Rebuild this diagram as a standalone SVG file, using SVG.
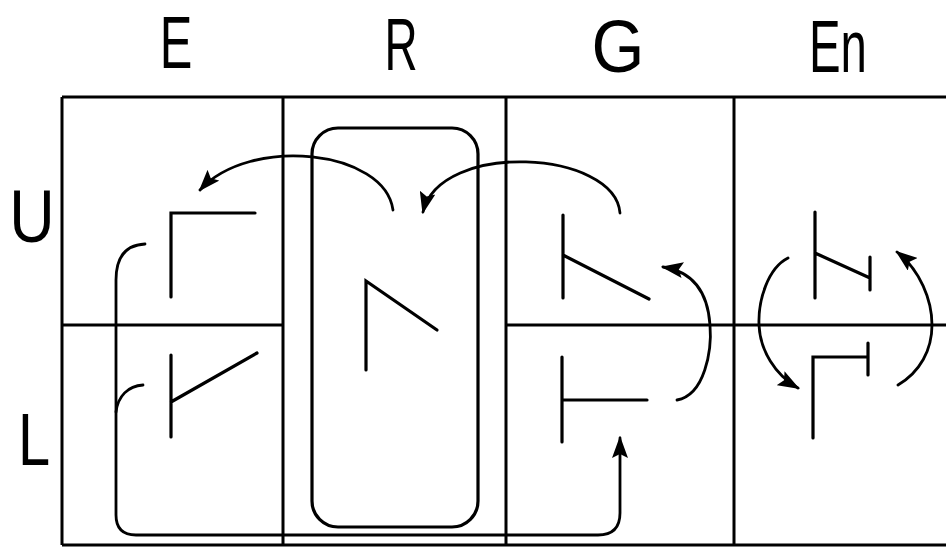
<svg xmlns="http://www.w3.org/2000/svg" width="946" height="551" viewBox="0 0 946 551">
<style>
.grid{stroke:#000;stroke-width:3;fill:none}
.g{stroke:#000;stroke-width:3.2;fill:none;stroke-linecap:round}
.c{stroke:#000;stroke-width:2.8;fill:none;stroke-linecap:round}
.lbl{font-family:"Liberation Sans","Arial",sans-serif;font-weight:normal;font-size:74px;fill:#000;text-anchor:middle}
</style>
<defs>
<marker id="ah" markerUnits="userSpaceOnUse" viewBox="0 0 22 16" markerWidth="22" markerHeight="16" refX="20" refY="8" orient="auto">
<path d="M0,0 L22,8 L0,16 L4,8 z" fill="#000"/>
</marker>
</defs>
<rect width="946" height="551" fill="#fff"/>
<g id="grid">
<path class="grid" d="M62 97 H946 M62 545 H946 M62 325 H283 M506 325 H946 M62 97 V545 M283 97 V545 M506 97 V545 M734 97 V545"/>
</g>
<g id="labels">
<text class="lbl" font-size="74" transform="translate(176 68) scale(0.66 1)">E</text>
<text class="lbl" font-size="74" transform="translate(401 70) scale(0.62 1)">R</text>
<text class="lbl" font-size="74" transform="translate(618 72) scale(0.92 1)">G</text>
<text class="lbl" font-size="74" transform="translate(838 72) scale(0.64 1)">En</text>
<text class="lbl" font-size="74" transform="translate(32 242) scale(0.85 1)">U</text>
<text class="lbl" font-size="74" transform="translate(34 465) scale(0.78 1)">L</text>
</g>
<g id="E-upper"><path class="g" d="M171 297 V213 H255"/></g>
<g id="E-lower"><path class="g" d="M171 355 V437 M171 402 L257 353"/></g>
<g id="R-box"><rect class="g" x="312" y="128" width="166" height="399" rx="26"/></g>
<g id="R-glyph"><path class="g" d="M366 370 V281 L437 330"/></g>
<g id="G-upper"><path class="g" d="M563 215 V298 M563 255 L649 299"/></g>
<g id="G-lower"><path class="g" d="M562 357 V442 M562 400 H647"/></g>
<g id="En-upper"><path class="g" d="M815 212 V298 M815 253 L870 278 M870 257 V290"/></g>
<g id="En-lower"><path class="g" d="M813 438 V357 H868 M868 343 V375"/></g>
<g id="connectors">
<path class="c" d="M393 210 C385 150 250 135 200 190" marker-end="url(#ah)"/>
<path class="c" d="M620 213 C615 150 440 140 423 212" marker-end="url(#ah)"/>
<path class="c" d="M145 244 C125 245 116 258 116 280 L116 515 Q116 535 136 535 L598 535 Q620 535 620 513 L620 438" marker-end="url(#ah)"/>
<path class="c" d="M143 385 C128 386 118 396 116 412"/>
<path class="c" d="M677 400 C705 395 712 350 710 325 C708 295 695 272 663 267" marker-end="url(#ah)"/>
<path class="c" d="M788 258 C768 268 758 300 759 325 C760 350 775 375 798 388" marker-end="url(#ah)"/>
<path class="c" d="M898 385 C920 372 932 350 932 325 C932 300 920 270 897 252" marker-end="url(#ah)"/>
</g>
</svg>
